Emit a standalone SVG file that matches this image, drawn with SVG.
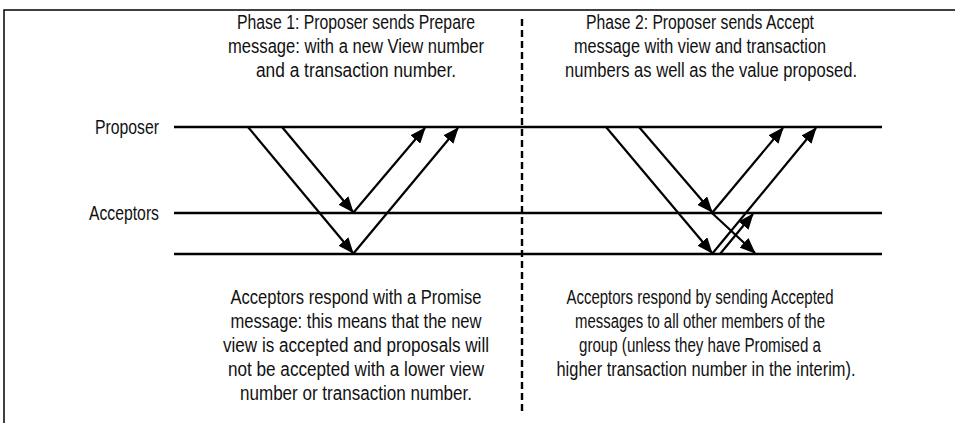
<svg xmlns="http://www.w3.org/2000/svg" width="955" height="423" viewBox="0 0 955 423">
<defs>
<style>
.t{font-family:"Liberation Sans Narrow","Liberation Sans",Arial,sans-serif;font-size:20px;fill:#111;text-anchor:middle}
.lbl{font-family:"Liberation Sans Narrow","Liberation Sans",Arial,sans-serif;font-size:20px;fill:#111;text-anchor:end}
.ln{stroke:#000;stroke-width:2.4;fill:none}
.ar{stroke:#000;stroke-width:2.2;fill:none;marker-end:url(#ah)}
</style>
<marker id="ah" markerUnits="userSpaceOnUse" markerWidth="16" markerHeight="13" refX="15" refY="6.5" orient="auto" viewBox="0 0 16 13">
<path d="M0,0 L16,6.5 L0,13 z" fill="#000"/>
</marker>
</defs>
<rect width="955" height="423" fill="#fff"/>
<g id="frame">
<path d="M4,423 V10 H955" stroke="#000" stroke-width="1.5" fill="none"/>
<line x1="522" y1="19" x2="522" y2="413" stroke="#000" stroke-width="2.4" stroke-dasharray="7 4"/>
</g>
<g id="proposer">
<text class="lbl" x="159" y="134" textLength="64" lengthAdjust="spacingAndGlyphs">Proposer</text>
<line class="ln" x1="174" y1="127" x2="882" y2="127"/>
</g>
<g id="acceptors">
<text class="lbl" x="159" y="220" textLength="70" lengthAdjust="spacingAndGlyphs">Acceptors</text>
<line class="ln" x1="174" y1="213" x2="882" y2="213"/>
<line class="ln" x1="174" y1="254" x2="882" y2="254"/>
</g>
<g id="phase1-text">
<text class="t" x="356" y="29" textLength="238" lengthAdjust="spacingAndGlyphs">Phase 1: Proposer sends Prepare</text>
<text class="t" x="356" y="53" textLength="256" lengthAdjust="spacingAndGlyphs">message: with a new View number</text>
<text class="t" x="356" y="77" textLength="200" lengthAdjust="spacingAndGlyphs">and a transaction number.</text>
</g>
<g id="phase2-text">
<text class="t" x="700" y="29" textLength="228" lengthAdjust="spacingAndGlyphs">Phase 2: Proposer sends Accept</text>
<text class="t" x="700" y="53" textLength="252" lengthAdjust="spacingAndGlyphs">message with view and transaction</text>
<text class="t" x="711" y="77" textLength="292" lengthAdjust="spacingAndGlyphs">numbers as well as the value proposed.</text>
</g>
<g id="promise-text">
<text class="t" x="356" y="304" textLength="251" lengthAdjust="spacingAndGlyphs">Acceptors respond with a Promise</text>
<text class="t" x="356" y="328" textLength="251" lengthAdjust="spacingAndGlyphs">message: this means that the new</text>
<text class="t" x="356" y="352" textLength="266" lengthAdjust="spacingAndGlyphs">view is accepted and proposals will</text>
<text class="t" x="356" y="376" textLength="256" lengthAdjust="spacingAndGlyphs">not be accepted with a lower view</text>
<text class="t" x="356" y="400" textLength="232" lengthAdjust="spacingAndGlyphs">number or transaction number.</text>
</g>
<g id="accepted-text">
<text class="t" x="700" y="304" textLength="267" lengthAdjust="spacingAndGlyphs">Acceptors respond by sending Accepted</text>
<text class="t" x="700" y="328" textLength="250" lengthAdjust="spacingAndGlyphs">messages to all other members of the</text>
<text class="t" x="700" y="352" textLength="242" lengthAdjust="spacingAndGlyphs">group (unless they have Promised a</text>
<text class="t" x="706" y="376" textLength="299" lengthAdjust="spacingAndGlyphs">higher transaction number in the interim).</text>
</g>
<g id="connectors">
<line class="ar" x1="248" y1="127" x2="353" y2="253"/>
<line class="ar" x1="282" y1="127" x2="353" y2="212"/>
<line class="ar" x1="353" y1="213" x2="425" y2="128"/>
<line class="ar" x1="353" y1="254" x2="458" y2="128"/>
<line class="ar" x1="606" y1="127" x2="712" y2="253"/>
<line class="ar" x1="639" y1="127" x2="712" y2="212"/>
<line class="ar" x1="712" y1="213" x2="783" y2="128"/>
<line class="ar" x1="712" y1="254" x2="816" y2="128"/>
<line class="ar" x1="712" y1="213" x2="755" y2="253"/>
<line class="ar" x1="720" y1="254" x2="753" y2="214"/>
</g>
</svg>
